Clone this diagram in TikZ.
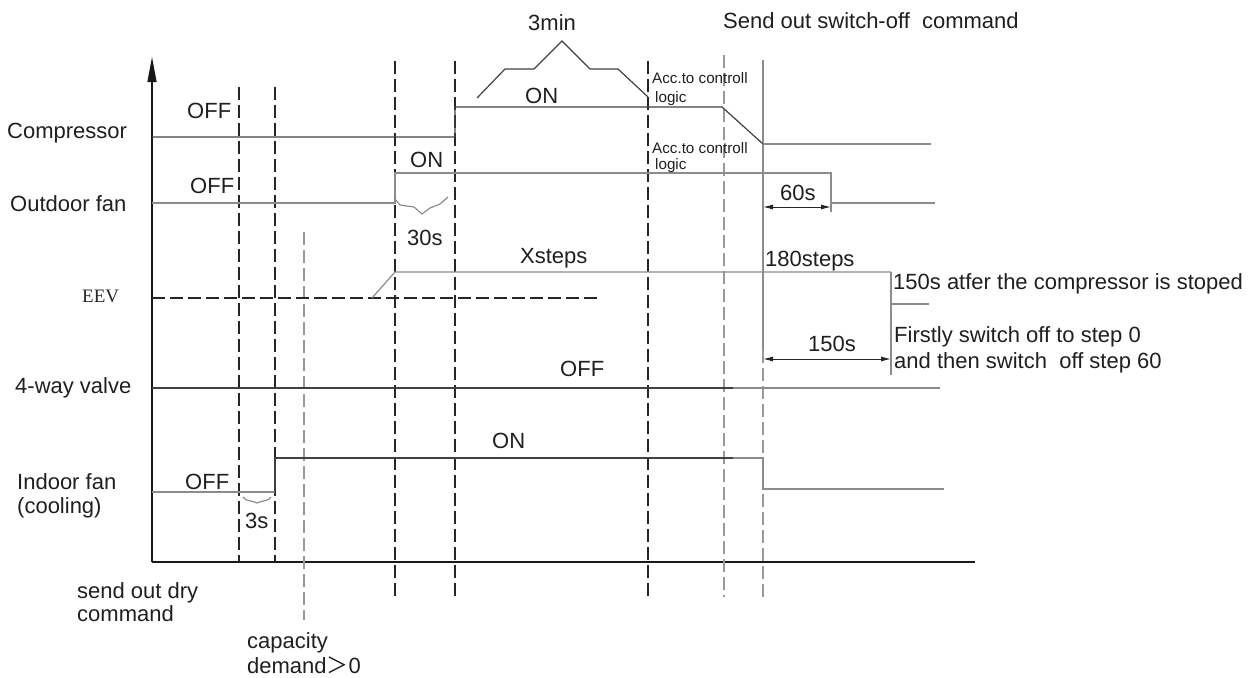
\documentclass[tikz,border=0pt]{standalone}
\usepackage{fontspec}
\setmainfont{Liberation Sans}
\newfontfamily\eevfont{Liberation Serif}
\newfontfamily\cjkfont{Noto Sans CJK SC}
\usetikzlibrary{arrows.meta}
\begin{document}
\begin{tikzpicture}[x=1pt,y=-1pt,
  axis/.style={line width=1.3pt, draw=black!90},
  sigd/.style={line width=1.2pt, draw=black!75},
  sigg/.style={line width=1.2pt, draw=black!45},
  vdashd/.style={line width=1.2pt, draw=black!85, dash pattern=on 13pt off 5pt},
  vdashg/.style={line width=1.2pt, draw=black!40, dash pattern=on 13pt off 5pt},
  dimline/.style={line width=1pt, draw=black!85, {Latex[length=10pt,width=5pt]}-{Latex[length=10pt,width=5pt]}},
  lbl/.style={inner sep=0pt, anchor=base west, text=black!88, font=\fontsize{22}{26}\selectfont},
  small/.style={inner sep=0pt, anchor=base west, text=black!88, font=\fontsize{15.2}{18}\selectfont},
]
\useasboundingbox (0,0) rectangle (1252,677);

% axes
\draw[axis] (152,562) -- (975,562);
\draw[axis, -{Triangle[length=25pt,width=9pt]}] (152,562) -- (152,57);

% vertical time markers
\foreach \x in {239,275} \draw[vdashd] (\x,87) -- (\x,562);
\foreach \x in {395,455,648} \draw[vdashd] (\x,61) -- (\x,597);
\draw[vdashg] (304,232) -- (304,620);
\draw[vdashg] (724,55) -- (724,597);
\draw[sigg] (763,60) -- (763,350);
\draw[vdashg] (763,350) -- (763,597);

% compressor
\draw[sigd] (152,137) -- (455,137) -- (455,107) -- (722,107) -- (763,144);
\draw[sigg] (763,144) -- (931,144);

% outdoor fan
\draw[sigg] (152,203) -- (395,203) -- (395,173) -- (831,173) -- (831,212);
\draw[sigg] (831,203) -- (935,203);

% EEV
\draw[vdashd] (152,298) -- (598,298);
\draw[sigg] (372,298) -- (395,272) -- (891,272);
\draw[sigg] (891,272) -- (891,375);
\draw[sigg] (891,304) -- (929,304);

% 4-way valve
\draw[sigd] (152,388) -- (733,388);
\draw[sigg] (733,388) -- (940,388);

% indoor fan
\draw[sigg] (152,492) -- (275,492);
\draw[sigd] (275,492) -- (275,458) -- (733,458);
\draw[sigg] (733,458) -- (763,458) -- (763,489) -- (944,489);

% 3min bracket
\draw[sigd] (477,98) -- (505,69) -- (534,69) -- (562,41) -- (590,69) -- (618,69) -- (648,97);

% braces
\draw[sigg] (395,199) -- (400,205) -- (414,207) -- (422,214) -- (430,208) -- (440,204) -- (448,197);
\draw[sigg] (243,497) .. controls (245,501) and (250,500) .. (257,503) .. controls (264,500) and (269,501) .. (271,497);

% dimensions
\draw[dimline] (763,207) -- (831,207);
\draw[dimline] (763,359) -- (891,359);

% labels
\node[lbl] (tcomp) at (7,138) {Compressor};
\node[lbl] (toutd) at (10,211) {Outdoor fan};
\node[inner sep=0pt, anchor=base west, text=black!85, font=\eevfont\fontsize{19}{22}\selectfont] (teev) at (82,302) {EEV};
\node[lbl] (tfour) at (15,393) {4-way valve};
\node[lbl] (tind1) at (17,489) {Indoor fan};
\node[lbl] (tind2) at (17,513) {(cooling)};

\node[lbl] (off1) at (187,118) {OFF};
\node[lbl] (off2) at (190,193) {OFF};
\node[lbl] (off3) at (560,376) {OFF};
\node[lbl] (off4) at (185,489) {OFF};
\node[lbl] (on1) at (525,103) {ON};
\node[lbl] (on2) at (410,167) {ON};
\node[lbl] (on3) at (492,448) {ON};

\node[lbl] (t3min) at (528,31) {3min};
\node[lbl] (tsend) at (723,29) {Send out switch-off\ \ command};
\node[lbl] (t30s) at (407,245) {30s};
\node[lbl] (txst) at (520,263) {Xsteps};
\node[lbl] (t180) at (765,266) {180steps};
\node[lbl] (t60s) at (780,200) {60s};
\node[lbl] (t150s) at (808,351) {150s};
\node[lbl] (tafter) at (893,289) {150s atfer the compressor is stoped};
\node[lbl] (tfirst) at (894,342) {Firstly switch off to step 0};
\node[lbl] (tthen) at (894,368) {and then switch\ \ off step 60};
\node[lbl] (t3s) at (245,528) {3s};

\node[small] (acc1) at (652,84) {Acc.to controll};
\node[small] (log1) at (655,102) {logic};
\node[small] (acc2) at (652,153) {Acc.to controll};
\node[small] (log2) at (655,169) {logic};

\node[lbl] (dry1) at (77,598) {send out dry};
\node[lbl] (dry2) at (77,621) {command};
\node[lbl] (cap1) at (247,648) {capacity};
\node[lbl] (cap2) at (247,673) {demand{\cjkfont ＞}0};
\end{tikzpicture}
\end{document}
